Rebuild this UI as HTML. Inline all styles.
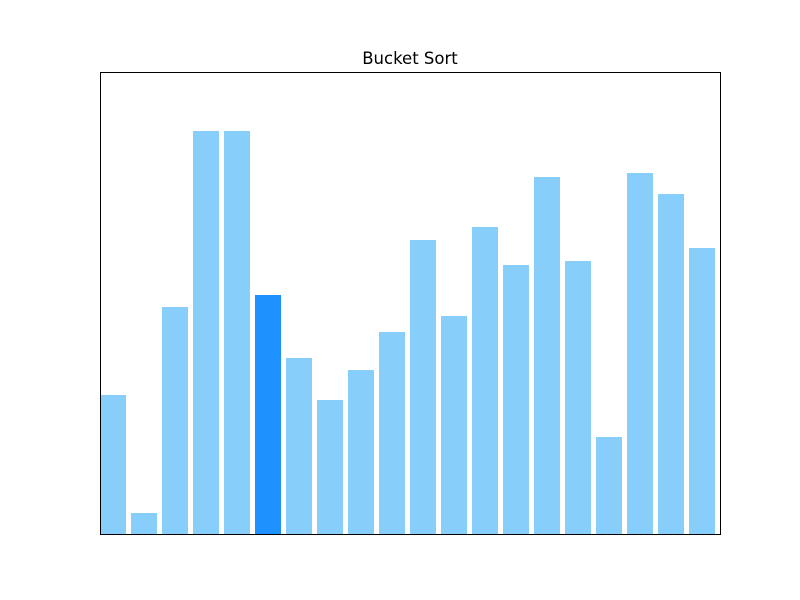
<!DOCTYPE html>
<html><head><meta charset="utf-8"><style>
html,body{margin:0;padding:0;background:#fff;}
svg{display:block;font-family:"DejaVu Sans","Liberation Sans",sans-serif;}
</style></head><body>
<svg id="chart" width="800" height="600">
<rect width="800" height="600" fill="#fff"></rect>
<text x="410" y="64" text-anchor="middle" font-size="16.5" fill="#000">Bucket Sort</text>
<g id="bars"></g>
<rect x="100.5" y="72.5" width="620" height="462" fill="none" stroke="#000" stroke-width="1"></rect>
</svg>
<script>
const categories = [0,1,2,3,4,5,6,7,8,9,10,11,12,13,14,15,16,17,18,19];
const values = [139,21,227,403,403,239,176,134,164,202,294,218,307,269,357,273,97,361,340,286];
const highlighted = [5];
const yMax = 462;
const plotLeft = 100, plotTop = 72, plotW = 620, plotH = 462;
function xScale(i){ return plotLeft + i * 31; }
function yScale(v){ return plotTop + plotH - v / yMax * plotH; }
const g = document.getElementById('bars');
categories.forEach((c, i) => {
  const r = document.createElementNS('http://www.w3.org/2000/svg', 'rect');
  const y = yScale(values[i]);
  r.setAttribute('x', xScale(i));
  r.setAttribute('y', y);
  r.setAttribute('width', 26);
  r.setAttribute('height', plotTop + plotH - y);
  r.setAttribute('fill', highlighted.includes(i) ? '#1e90ff' : '#87cefa');
  
  
  g.appendChild(r);
});
</script>
</body></html>
